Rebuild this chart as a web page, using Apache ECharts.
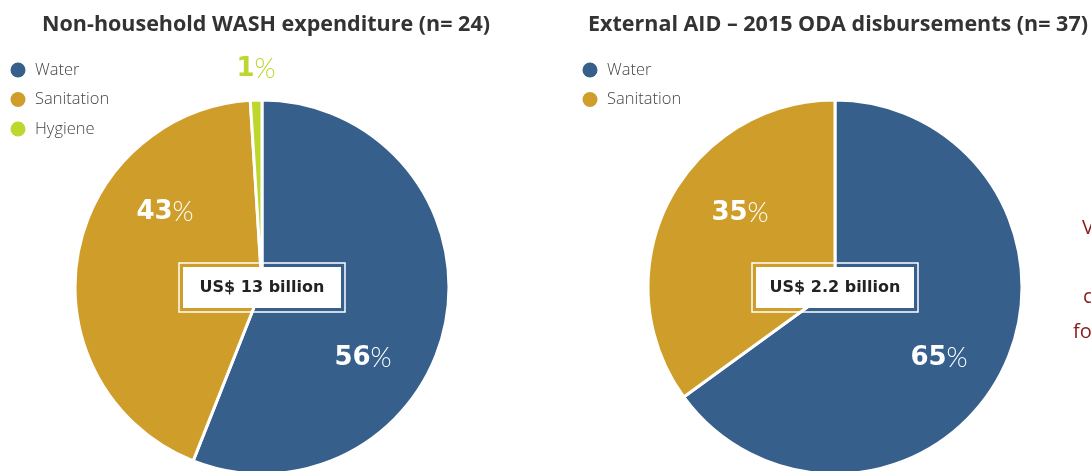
<!DOCTYPE html>
<html><head><meta charset="utf-8">
<script src="https://cdn.jsdelivr.net/npm/echarts@6/dist/echarts.min.js"></script>
<style>html,body{margin:0;padding:0;background:#fff}#c{width:1091px;height:471px}</style>
</head><body><div id="c"></div>
<script>
const categoriesLeft = ['Water', 'Sanitation', 'Hygiene'];
const valuesLeft = [56, 43, 1];
const categoriesRight = ['Water', 'Sanitation'];
const valuesRight = [65, 35];
const titleLeft = 'Non-household WASH expenditure (n= 24)';
const titleRight = 'External AID \u2013 2015 ODA disbursements (n= 37)';
const totalLeft = 'US$ 13 billion';
const totalRight = 'US$ 2.2 billion';

const colors = {Water: '#365f8c', Sanitation: '#cf9e2a', Hygiene: '#bfd62f'};
const labelColors = {Water: '#ffffff', Sanitation: '#ffffff', Hygiene: '#bfd62f'};
// label offsets from pie centre (layout only)
const offsLeft = [[101, 71], [-97, -75], [-6, -218]];
const offsRight = [[104, 71], [-95, -74]];

const C1 = [262, 287], C2 = [835, 287], R = 187;

function mk(cats, vals, center, offs) {
  return {
    type: 'pie', center: center, radius: R, startAngle: 90, clockwise: true,
    silent: true, animation: false,
    itemStyle: {borderColor: '#fff', borderWidth: 3},
    data: cats.map((c, i) => ({
      name: c, value: vals[i],
      itemStyle: {color: colors[c]},
      label: {
        formatter: '{n|' + vals[i] + '}{p|%}',
        rich: {
          n: {fontFamily: 'DejaVu Sans', fontWeight: 'bold', fontSize: 26, color: labelColors[c]},
          p: {fontFamily: 'Lato', fontWeight: 300, fontSize: 27, color: labelColors[c]}
        }
      }
    })),
    label: {show: true, position: 'inside'},
    labelLine: {show: false},
    labelLayout: function (p) {
      const o = offs[p.dataIndex];
      return {x: center[0] + o[0], y: center[1] + o[1], align: 'center', verticalAlign: 'middle'};
    }
  };
}

function box(cx, w, text) {
  return [
    {type: 'rect', shape: {x: cx - w / 2 - 4, y: 263, width: w + 8, height: 49}, style: {fill: 'none', stroke: '#fff', lineWidth: 1.5}, z: 10},
    {type: 'rect', shape: {x: cx - w / 2, y: 267, width: w, height: 41}, style: {fill: '#fff', stroke: 'none'}, z: 11},
    {type: 'text', x: cx, y: 288, style: {text: text, fontFamily: 'DejaVu Sans', fontWeight: 'bold', fontSize: 16, fill: '#222', align: 'center', verticalAlign: 'middle'}, z: 12}
  ];
}

function legend(x, cats) {
  const out = [];
  cats.forEach((c, i) => {
    const y = 70 + i * 29.5;
    out.push({type: 'circle', shape: {cx: x, cy: y, r: 7.5}, style: {fill: colors[c]}});
    out.push({type: 'text', x: x + 17, y: y, style: {text: c, fontFamily: 'Open Sans', fontWeight: 300, fontSize: 16.5, fill: '#444', verticalAlign: 'middle'}});
  });
  return out;
}

const chart = echarts.init(document.getElementById('c'));
chart.setOption({
  animation: false,
  series: [mk(categoriesLeft, valuesLeft, C1, offsLeft), mk(categoriesRight, valuesRight, C2, offsRight)],
  graphic: [
    {type: 'text', x: 266, y: 25, style: {text: titleLeft, fontFamily: 'Open Sans', fontWeight: 'bold', fontSize: 21.5, fill: '#333', align: 'center', verticalAlign: 'middle'}},
    {type: 'text', x: 588, y: 25, style: {text: titleRight, fontFamily: 'Open Sans', fontWeight: 'bold', fontSize: 21.5, fill: '#333', align: 'left', verticalAlign: 'middle'}},
    ...legend(18, categoriesLeft),
    ...legend(590, categoriesRight),
    ...box(262, 158, totalLeft),
    ...box(835, 158, totalRight),
    {type: 'text', x: 1082, y: 228, style: {text: 'Va', fontFamily: 'Open Sans', fontSize: 20, fill: '#8b1a1a', verticalAlign: 'middle'}},
    {type: 'text', x: 1083, y: 297, style: {text: 'co', fontFamily: 'Open Sans', fontSize: 20, fill: '#8b1a1a', verticalAlign: 'middle'}},
    {type: 'text', x: 1073, y: 332, style: {text: 'for', fontFamily: 'Open Sans', fontSize: 20, fill: '#8b1a1a', verticalAlign: 'middle'}}
  ]
});
</script></body></html>
